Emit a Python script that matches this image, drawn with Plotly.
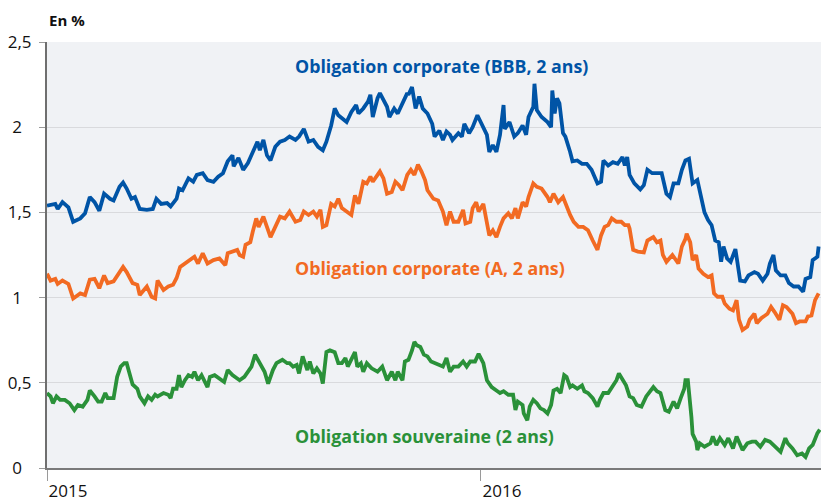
import pandas as pd
import plotly.graph_objects as go

START = "2015-01-01"

# Days since 1 Jan 2015 and yields (%)
bbb_days = [0, 7, 9, 13, 18, 22, 28, 32, 36, 40, 44, 48, 53, 56, 61, 64, 67, 71, 74, 78,
            84, 89, 92, 96, 101, 104, 109, 111, 114, 119, 123, 126, 131, 135, 140, 144, 148, 152, 156, 157,
            161, 162, 165, 169, 173, 177, 179, 182, 185, 188, 192, 196, 200, 204, 209, 212, 216, 220, 224, 228,
            232, 235, 239, 242, 245, 249, 252, 256, 260, 262, 266, 270, 272, 274, 278, 280, 283, 286, 288, 292,
            295, 299, 303, 304, 307, 310, 313, 316, 320, 324, 326, 330, 333, 336, 339, 341, 346, 349, 351, 355,
            358, 362, 364, 367, 370, 372, 375, 378, 381, 384, 385, 389, 393, 396, 400, 403, 405, 409, 410, 412,
            416, 421, 424, 425, 427, 429, 431, 434, 436, 440, 442, 446, 450, 454, 458, 463, 466, 468, 472, 476,
            480, 484, 486, 488, 490, 494, 499, 502, 505, 509, 513, 517, 521, 524, 527, 531, 534, 537, 540, 543,
            547, 549, 553, 556, 559, 562, 565, 567, 569, 572, 575, 579, 583, 587, 590, 595, 598, 602, 606, 608,
            611, 613, 617, 621, 624, 628, 632, 636, 638, 642, 644, 648, 649]
bbb_vals = [1.54, 1.55, 1.52, 1.56, 1.53, 1.445, 1.465, 1.495, 1.59, 1.56, 1.51, 1.61, 1.58, 1.57, 1.65, 1.675, 1.64, 1.58, 1.59, 1.52,
            1.515, 1.52, 1.58, 1.55, 1.555, 1.535, 1.58, 1.64, 1.63, 1.70, 1.68, 1.72, 1.73, 1.69, 1.68, 1.71, 1.73, 1.80, 1.835, 1.77,
            1.82, 1.80, 1.75, 1.79, 1.855, 1.915, 1.865, 1.925, 1.835, 1.805, 1.885, 1.915, 1.925, 1.945, 1.925, 1.945, 1.99, 1.915, 1.925, 1.885,
            1.865, 1.915, 2.01, 2.11, 2.07, 2.05, 2.03, 2.09, 2.13, 2.08, 2.11, 2.15, 2.19, 2.06, 2.17, 2.20, 2.16, 2.12, 2.06, 2.11,
            2.08, 2.14, 2.20, 2.19, 2.235, 2.11, 2.18, 2.11, 2.08, 2.02, 1.945, 1.98, 1.925, 1.975, 1.955, 1.925, 1.965, 1.945, 2.02, 1.965,
            2.00, 2.07, 2.04, 2.00, 1.955, 1.855, 1.895, 1.855, 1.955, 2.13, 1.99, 2.03, 1.945, 1.965, 2.01, 1.955, 2.06, 2.12, 2.255, 2.10,
            2.06, 2.03, 2.00, 2.215, 2.08, 2.17, 2.14, 1.965, 1.945, 1.855, 1.80, 1.805, 1.785, 1.785, 1.75, 1.67, 1.68, 1.805, 1.775, 1.795,
            1.785, 1.825, 1.775, 1.825, 1.72, 1.67, 1.635, 1.66, 1.75, 1.73, 1.73, 1.73, 1.61, 1.59, 1.67, 1.67, 1.75, 1.805, 1.815, 1.67,
            1.69, 1.62, 1.50, 1.455, 1.425, 1.335, 1.325, 1.21, 1.30, 1.23, 1.21, 1.285, 1.10, 1.095, 1.13, 1.15, 1.14, 1.10, 1.14, 1.20,
            1.25, 1.16, 1.13, 1.13, 1.085, 1.065, 1.065, 1.035, 1.11, 1.12, 1.22, 1.24, 1.30]

a_days = [0, 3, 7, 9, 13, 18, 22, 28, 32, 36, 40, 44, 48, 51, 56, 60, 64, 67, 72, 76,
          78, 84, 88, 91, 93, 98, 102, 106, 109, 112, 116, 120, 124, 127, 131, 135, 140, 145, 150, 152,
          156, 160, 162, 165, 167, 171, 173, 176, 178, 182, 185, 188, 192, 196, 200, 204, 209, 213, 216, 220,
          224, 227, 230, 232, 235, 239, 242, 245, 248, 252, 256, 259, 262, 266, 269, 272, 274, 278, 280, 283,
          286, 290, 293, 296, 299, 303, 306, 309, 312, 315, 318, 320, 325, 329, 333, 336, 339, 342, 346, 350,
          352, 356, 358, 361, 363, 367, 369, 372, 375, 378, 381, 384, 388, 391, 394, 396, 400, 403, 405, 409,
          412, 416, 421, 423, 426, 430, 434, 436, 440, 443, 447, 451, 455, 459, 463, 466, 469, 472, 475, 479,
          483, 486, 489, 490, 493, 497, 502, 505, 507, 510, 513, 516, 518, 521, 526, 528, 531, 534, 537, 538,
          541, 543, 546, 548, 552, 556, 559, 561, 564, 568, 570, 574, 577, 580, 582, 585, 589, 591, 595, 597,
          601, 606, 609, 612, 616, 619, 622, 627, 630, 633, 638, 640, 643, 646, 649]
a_vals = [1.14, 1.10, 1.11, 1.08, 1.10, 1.08, 0.995, 1.025, 1.015, 1.105, 1.11, 1.055, 1.13, 1.085, 1.095, 1.14, 1.18, 1.15, 1.085, 1.075,
          1.015, 1.065, 1.005, 0.995, 1.10, 1.045, 1.065, 1.075, 1.115, 1.18, 1.20, 1.22, 1.24, 1.20, 1.26, 1.20, 1.22, 1.23, 1.19, 1.26,
          1.27, 1.28, 1.25, 1.24, 1.31, 1.325, 1.385, 1.465, 1.415, 1.475, 1.415, 1.355, 1.415, 1.475, 1.465, 1.505, 1.445, 1.455, 1.505, 1.485,
          1.505, 1.475, 1.515, 1.415, 1.425, 1.55, 1.535, 1.58, 1.525, 1.505, 1.485, 1.60, 1.55, 1.68, 1.67, 1.71, 1.68, 1.72, 1.74, 1.70,
          1.61, 1.62, 1.68, 1.66, 1.63, 1.72, 1.75, 1.72, 1.78, 1.74, 1.69, 1.63, 1.58, 1.57, 1.505, 1.425, 1.505, 1.445, 1.445, 1.515,
          1.435, 1.445, 1.525, 1.56, 1.505, 1.55, 1.465, 1.365, 1.395, 1.355, 1.415, 1.465, 1.495, 1.465, 1.525, 1.465, 1.56, 1.535, 1.59, 1.67,
          1.65, 1.64, 1.59, 1.56, 1.61, 1.56, 1.59, 1.55, 1.485, 1.445, 1.415, 1.415, 1.395, 1.335, 1.28, 1.365, 1.415, 1.425, 1.465, 1.445,
          1.445, 1.425, 1.425, 1.405, 1.28, 1.27, 1.265, 1.335, 1.345, 1.355, 1.325, 1.335, 1.25, 1.21, 1.25, 1.23, 1.20, 1.30, 1.345, 1.375,
          1.325, 1.22, 1.25, 1.17, 1.14, 1.12, 1.13, 1.025, 1.005, 1.005, 0.965, 0.935, 0.925, 0.985, 0.87, 0.81, 0.83, 0.87, 0.905, 0.85,
          0.88, 0.905, 0.945, 0.915, 0.87, 0.955, 0.945, 0.905, 0.85, 0.86, 0.86, 0.89, 0.895, 0.985, 1.025]

sov_days = [0, 3, 5, 8, 11, 15, 19, 23, 26, 30, 34, 36, 40, 43, 46, 49, 51, 56, 59, 62,
            65, 67, 71, 72, 76, 78, 82, 85, 88, 91, 93, 98, 102, 104, 106, 109, 111, 113, 116, 119,
            122, 124, 127, 130, 135, 137, 141, 145, 149, 152, 156, 160, 162, 166, 169, 172, 175, 178, 181, 183,
            186, 190, 193, 198, 202, 204, 207, 210, 212, 215, 219, 221, 224, 227, 230, 232, 235, 238, 242, 245,
            248, 251, 253, 256, 259, 261, 264, 266, 269, 273, 278, 282, 286, 290, 293, 295, 299, 301, 304, 307,
            309, 311, 314, 317, 320, 323, 326, 330, 333, 336, 339, 342, 346, 350, 353, 356, 360, 363, 367, 370,
            374, 378, 381, 384, 388, 392, 394, 396, 400, 401, 404, 406, 409, 412, 415, 418, 421, 424, 426, 429,
            432, 435, 437, 440, 442, 446, 450, 452, 455, 459, 463, 465, 468, 472, 475, 479, 481, 484, 487, 490,
            493, 496, 500, 504, 507, 510, 513, 516, 520, 523, 527, 530, 533, 536, 537, 539, 542, 543, 546, 547,
            549, 553, 558, 560, 563, 566, 570, 573, 577, 580, 585, 589, 593, 596, 600, 604, 608, 612, 617, 621,
            623, 627, 631, 635, 638, 641, 644, 648, 650]
sov_vals = [0.44, 0.42, 0.38, 0.42, 0.40, 0.40, 0.38, 0.34, 0.37, 0.36, 0.40, 0.455, 0.42, 0.39, 0.39, 0.44, 0.41, 0.41, 0.535, 0.595,
            0.615, 0.615, 0.515, 0.49, 0.465, 0.42, 0.38, 0.42, 0.40, 0.43, 0.42, 0.44, 0.43, 0.41, 0.465, 0.465, 0.545, 0.475, 0.515, 0.545,
            0.535, 0.565, 0.515, 0.545, 0.475, 0.535, 0.545, 0.525, 0.505, 0.575, 0.545, 0.525, 0.515, 0.535, 0.565, 0.595, 0.665, 0.625, 0.585, 0.565,
            0.495, 0.575, 0.615, 0.635, 0.615, 0.615, 0.595, 0.605, 0.555, 0.655, 0.575, 0.625, 0.555, 0.585, 0.555, 0.495, 0.68, 0.69, 0.68, 0.615,
            0.615, 0.645, 0.595, 0.635, 0.68, 0.595, 0.615, 0.565, 0.615, 0.585, 0.565, 0.595, 0.515, 0.565, 0.515, 0.565, 0.515, 0.625, 0.635, 0.69,
            0.74, 0.72, 0.71, 0.665, 0.655, 0.625, 0.615, 0.605, 0.595, 0.645, 0.565, 0.595, 0.595, 0.625, 0.595, 0.625, 0.625, 0.67, 0.615, 0.515,
            0.475, 0.455, 0.44, 0.45, 0.43, 0.43, 0.34, 0.39, 0.37, 0.32, 0.28, 0.36, 0.40, 0.38, 0.35, 0.34, 0.32, 0.37, 0.455, 0.465,
            0.44, 0.545, 0.535, 0.475, 0.485, 0.465, 0.485, 0.45, 0.44, 0.41, 0.36, 0.40, 0.44, 0.44, 0.475, 0.515, 0.555, 0.515, 0.485, 0.42,
            0.41, 0.37, 0.36, 0.42, 0.45, 0.475, 0.45, 0.44, 0.34, 0.33, 0.39, 0.35, 0.41, 0.465, 0.515, 0.515, 0.30, 0.20, 0.155, 0.105,
            0.145, 0.125, 0.145, 0.185, 0.135, 0.175, 0.135, 0.175, 0.115, 0.185, 0.105, 0.145, 0.155, 0.155, 0.125, 0.165, 0.155, 0.125, 0.095, 0.175,
            0.145, 0.115, 0.075, 0.085, 0.065, 0.115, 0.135, 0.205, 0.225]

series_names = ["Obligation corporate (BBB, 2 ans)", "Obligation corporate (A, 2 ans)", "Obligation souveraine (2 ans)"]
series_colors = ["#0054A6", "#F26A22", "#2A9139"]
label_values = [2.36, 1.175, 0.185]   # y level of each in-chart label (%)
label_day = 207                        # day offset where labels start

HIDE = '<span style="color:white">5</span>'
y_tickvals = [0, 0.5, 1, 1.5, 2, 2.5]
y_ticktext = ["0" + HIDE, "0,5", "1" + HIDE, "1,5", "2" + HIDE, "2,5"]
x_tickvals = ["2015-01-01", "2016-01-01"]
x_ticktext = ["2015", "2016"]
x_range = ["2015-01-01", "2016-10-13"]

start = pd.Timestamp(START)
def to_dates(days):
    return [start + pd.Timedelta(days=d) for d in days]

fig = go.Figure()
for days, vals, name, col in zip([bbb_days, a_days, sov_days], [bbb_vals, a_vals, sov_vals],
                                 series_names, series_colors):
    fig.add_trace(go.Scatter(x=to_dates(days), y=vals, mode="lines", name=name,
                             line=dict(color=col, width=3.8), showlegend=False))

for name, col, yv in zip(series_names, series_colors, label_values):
    fig.add_annotation(x=start + pd.Timedelta(days=label_day), y=yv, xref="x", yref="y",
                       text="<b>" + name + "</b>", showarrow=False, xanchor="left", yanchor="middle",
                       font=dict(family="Open Sans", size=17.8, color=col))

fig.add_annotation(x=0, y=1, xref="paper", yref="paper", text="<b>En %</b>", showarrow=False,
                   xanchor="left", yanchor="bottom", yshift=10,
                   font=dict(family="Open Sans", size=15, color="#111111"))

fig.update_layout(
    width=821, height=501,
    margin=dict(l=47, r=0, t=42, b=33, autoexpand=False),
    paper_bgcolor="white", plot_bgcolor="#F0F2F5",
    font=dict(family="Open Sans", size=17, color="#111111"),
    showlegend=False,
)
fig.update_xaxes(type="date", range=x_range, tickvals=x_tickvals, ticktext=x_ticktext,
                 showgrid=False, zeroline=False, showline=True, linecolor="#7a7a7a", linewidth=1.5,
                 ticks="outside", ticklen=11, tickcolor="#9a9a9a", tickwidth=1,
                 ticklabelshift=21, ticklabelstandoff=-4, automargin=False, tickfont=dict(size=17))
fig.update_yaxes(range=[0, 2.5], tickvals=y_tickvals, ticktext=y_ticktext,
                 showgrid=True, gridcolor="#D9DADD", gridwidth=1, zeroline=False,
                 showline=True, linecolor="#6f6f6f", linewidth=2,
                 ticks="outside", ticklen=6, tickcolor="#9a9a9a", tickwidth=1,
                 ticklabelstandoff=4, automargin=False, tickfont=dict(size=17))

fig.write_html("out.html", config={"displayModeBar": False},
               post_script="document.body.style.margin='0';document.body.style.overflow='hidden';")
